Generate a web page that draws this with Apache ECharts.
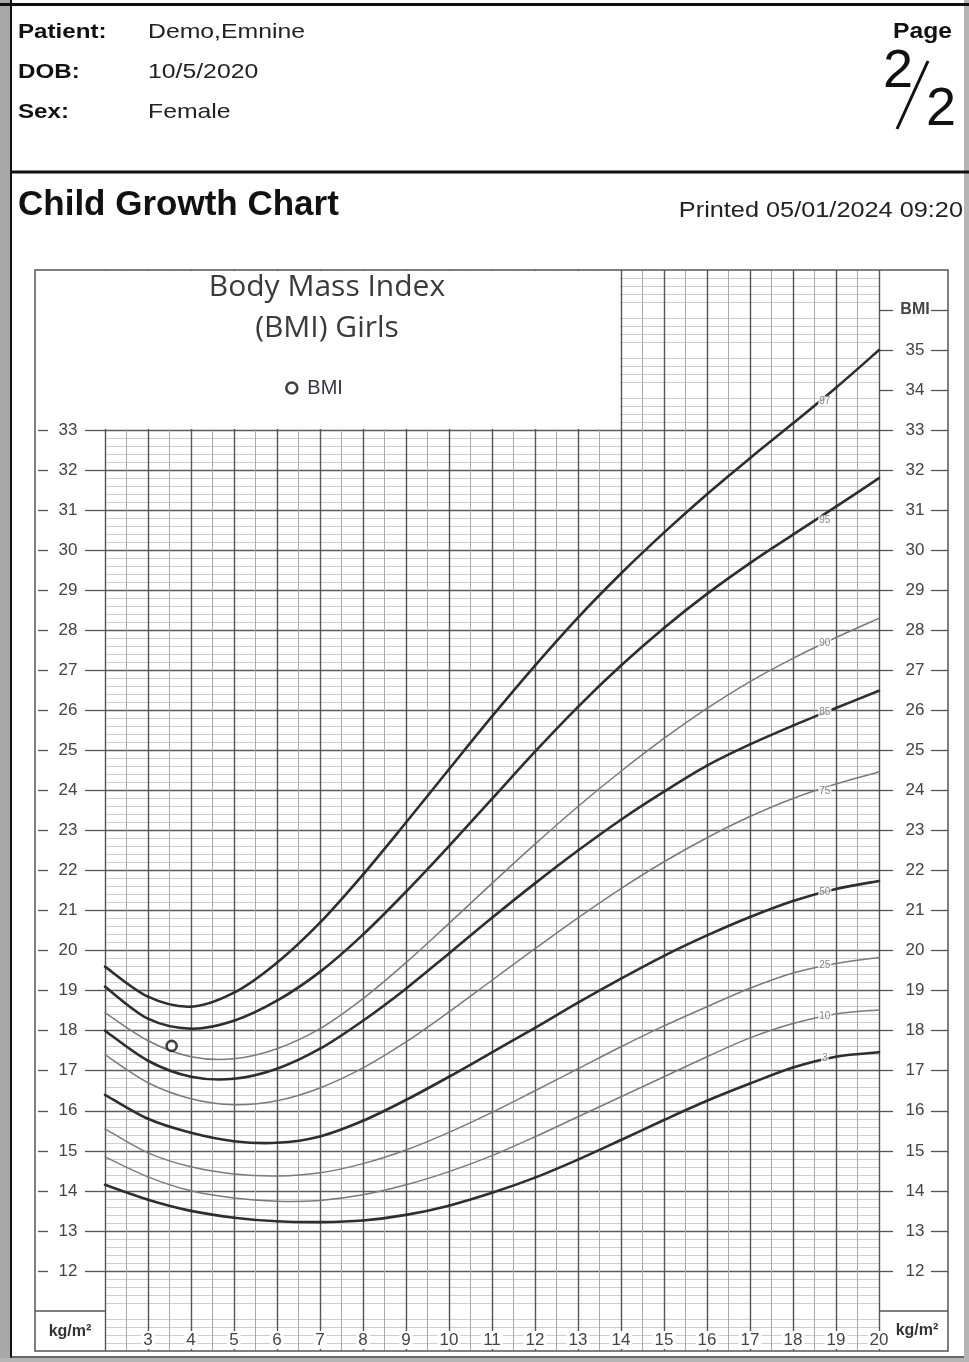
<!DOCTYPE html>
<html>
<head>
<meta charset="utf-8">
<script src="https://cdn.jsdelivr.net/npm/echarts@6/dist/echarts.min.js"></script>
<style>
html,body{margin:0;padding:0;background:#fff;}
#c{width:969px;height:1362px;}
</style>
</head>
<body>
<div id="c"></div>
<script>
// ---- data ----
const ages = [2,3,4,5,6,7,8,9,10,11,12,13,14,15,16,17,18,19,20];
const p97 = [19.6,18.85,18.6,18.95,19.7,20.7,21.9,23.2,24.53,25.85,27.12,28.32,29.42,30.44,31.4,32.3,33.17,34.06,35.0];
const p95 = [19.1,18.3,18.05,18.25,18.75,19.47,20.4,21.47,22.61,23.79,24.97,26.09,27.12,28.06,28.91,29.68,30.39,31.09,31.8];
const p90 = [18.45,17.75,17.35,17.3,17.55,18.05,18.8,19.7,20.68,21.68,22.66,23.6,24.48,25.3,26.05,26.72,27.3,27.82,28.3];
const p85 = [18.0,17.25,16.85,16.8,17.05,17.55,18.25,19.05,19.93,20.82,21.68,22.5,23.27,23.97,24.62,25.15,25.62,26.06,26.49];
const p75 = [17.4,16.7,16.3,16.15,16.25,16.57,17.07,17.72,18.47,19.26,20.05,20.82,21.55,22.22,22.82,23.35,23.8,24.16,24.46];
const p50 = [16.4,15.8,15.45,15.24,15.2,15.36,15.75,16.27,16.85,17.46,18.07,18.7,19.3,19.87,20.38,20.84,21.24,21.54,21.74];
const p25 = [15.55,14.95,14.6,14.42,14.37,14.45,14.68,15.02,15.46,15.96,16.5,17.05,17.6,18.12,18.6,19.06,19.44,19.68,19.83];
const p10 = [14.85,14.35,14.0,13.82,13.74,13.76,13.9,14.15,14.48,14.88,15.35,15.85,16.35,16.85,17.35,17.82,18.18,18.42,18.52];
const p3  = [14.15,13.78,13.5,13.33,13.24,13.22,13.26,13.4,13.63,13.95,14.33,14.78,15.27,15.77,16.25,16.68,17.08,17.35,17.46];

const pctNames = ['97','95','90','85','75','50','25','10','3'];
const pctThick = [true,true,false,true,false,true,false,false,true];
const pctLabelAge = 18.74;
const pctLabelVals = [33.73,30.75,27.68,25.96,23.99,21.45,19.64,18.37,17.3];

const bmiAge = [3.55];
const bmiVal = [17.62];

const xTickLabels = [3,4,5,6,7,8,9,10,11,12,13,14,15,16,17,18,19,20];
const leftTicks = [12,13,14,15,16,17,18,19,20,21,22,23,24,25,26,27,28,29,30,31,32,33];
const rightTicks = [12,13,14,15,16,17,18,19,20,21,22,23,24,25,26,27,28,29,30,31,32,33,34,35,36];

// ---- chart ----
const chart = echarts.init(document.getElementById('c'), null, {renderer:'canvas', width:969, height:1362});
const pctSeries = [p97,p95,p90,p85,p75,p50,p25,p10,p3];

const FONT = 'Liberation Sans, Arial, sans-serif';
const G = {left:105, right:90, top:270, bottom:11};

// smooth curve through the data points (Catmull-Rom segments), positions via api.coord
function curveRenderer(stroke, width) {
  return function (params, api) {
    const i = params.dataIndexInside;
    const n = params.dataInsideLength;
    if (i >= n - 1) return null;
    const P = k => api.coord([api.value(0, k), api.value(1, k)]);
    const p0 = P(Math.max(i - 1, 0));
    const p1 = P(i);
    const p2 = P(i + 1);
    const p3 = P(Math.min(i + 2, n - 1));
    return {
      type: 'bezierCurve',
      shape: {
        x1: p1[0], y1: p1[1],
        cpx1: p1[0] + (p2[0] - p0[0]) / 6, cpy1: p1[1] + (p2[1] - p0[1]) / 6,
        cpx2: p2[0] - (p3[0] - p1[0]) / 6, cpy2: p2[1] - (p3[1] - p1[1]) / 6,
        x2: p2[0], y2: p2[1]
      },
      style: {stroke: stroke, lineWidth: width, fill: 'none', lineCap: 'round'}
    };
  };
}

const series = pctSeries.map((arr, i) => ({
  name: 'P' + pctNames[i],
  type: 'custom',
  silent: true,
  z: 2,
  renderItem: pctThick[i] ? curveRenderer('#2e2e2e', 2.6) : curveRenderer('#7a7a7a', 1.5),
  encode: {x: 0, y: 1},
  data: ages.map((a, j) => [a, arr[j]])
}));

series.push({
  name: 'pctLabels',
  type: 'scatter',
  symbolSize: 0,
  silent: true,
  z: 4,
  data: pctLabelVals.map((v, i) => ({value:[pctLabelAge, v], name: pctNames[i]})),
  label: {
    show: true, position: 'inside', formatter: p => p.name,
    fontSize: 10, color: '#666', fontFamily: FONT,
    backgroundColor: '#fff', padding: [0, 1]
  }
});

series.push({
  name: 'BMI',
  type: 'scatter',
  symbol: 'circle',
  symbolSize: 10,
  z: 5,
  itemStyle: {color:'#fff', borderColor:'#111', borderWidth:2.6},
  data: bmiAge.map((a, i) => [a, bmiVal[i]])
});

const yBase = {
  type:'value', min:10, max:37, interval:1,
  axisLine:{show:false}, splitLine:{show:false},
  axisLabel:{show:false}, axisTick:{show:false}
};
const tickStyle = {color:'#555', width:1.3};

const option = {
  animation: false,
  backgroundColor: '#fff',
  grid: G,
  legend: {
    data: [{name:'BMI', icon:'circle', itemStyle:{color:'#fff', borderColor:'#111', borderWidth:2.6}}],
    left: 280, top: 373,
    itemWidth: 11, itemHeight: 11, itemGap: 10,
    selectedMode: false,
    textStyle: {fontSize: 20, color: '#3a3346', fontFamily: FONT, padding:[0,0,0,5]},
    z: 20
  },
  xAxis: [
    {
      type:'value', min:2, max:20, interval:1, gridIndex:0, position:'bottom',
      axisLine:{show:false}, axisTick:{show:false}, axisLabel:{show:false},
      splitLine:{show:true, lineStyle:{color:'#555', width:1.4}},
      minorTick:{show:false, splitNumber:2},
      minorSplitLine:{show:true, lineStyle:{color:'#a9a9a9', width:1}}
    },
    {
      type:'value', min:2, max:20, interval:1, gridIndex:0, position:'bottom', z: 6,
      axisLine:{show:false}, axisTick:{show:false}, splitLine:{show:false},
      axisLabel:{
        show:true, inside:true, customValues: xTickLabels, margin:2,
        fontSize:17, color:'#444', fontFamily: FONT,
        backgroundColor:'#fff', padding:[1,2,0,2]
      }
    }
  ],
  yAxis: [
    Object.assign({}, yBase, {
      position:'left',
      splitLine:{show:true, lineStyle:{color:'#5c5c5c', width:1.4}},
      minorTick:{show:false, splitNumber:5},
      minorSplitLine:{show:true, lineStyle:{color:'#cdcdcd', width:1}},
      axisTick:{show:true, length:20, customValues:leftTicks, lineStyle:tickStyle},
      axisLabel:{show:true, customValues:leftTicks, margin:37, align:'center', fontSize:17, color:'#444', fontFamily:FONT}
    }),
    Object.assign({}, yBase, {
      position:'left', offset:57,
      axisTick:{show:true, length:10, customValues:leftTicks, lineStyle:tickStyle}
    }),
    Object.assign({}, yBase, {
      position:'right',
      axisTick:{show:true, length:14, customValues:rightTicks, lineStyle:tickStyle},
      axisLabel:{
        show:true, customValues:rightTicks, margin:36, align:'center',
        fontSize:17, color:'#444', fontFamily:FONT,
        formatter: v => v === 36 ? '{b|BMI}' : String(v),
        rich:{b:{fontWeight:'bold', fontSize:16, color:'#444', fontFamily:FONT}}
      }
    }),
    Object.assign({}, yBase, {
      position:'right', offset:52,
      axisTick:{show:true, length:17, customValues:rightTicks, lineStyle:tickStyle}
    })
  ],
  series: series,
  graphic: [
    // page frame
    {type:'rect', shape:{x:0, y:0, width:10, height:1362}, style:{fill:'#a8a8a8'}, z:30},
    {type:'rect', shape:{x:964, y:0, width:5, height:1362}, style:{fill:'#b5b5b5'}, z:30},
    {type:'rect', shape:{x:0, y:1358, width:969, height:4}, style:{fill:'#b5b5b5'}, z:30},
    {type:'line', shape:{x1:11, y1:0, x2:11, y2:1358}, style:{stroke:'#111', lineWidth:2}, z:31},
    {type:'line', shape:{x1:0, y1:4.5, x2:969, y2:4.5}, style:{stroke:'#111', lineWidth:3}, z:31},
    {type:'line', shape:{x1:10, y1:1357, x2:964, y2:1357}, style:{stroke:'#333', lineWidth:1.5}, z:31},
    // header
    {type:'text', x:18, y:32, scaleX:1.15, z:30, style:{text:'Patient:', font:'bold 21px ' + FONT, fill:'#111', verticalAlign:'middle'}},
    {type:'text', x:18, y:72, scaleX:1.15, z:30, style:{text:'DOB:', font:'bold 21px ' + FONT, fill:'#111', verticalAlign:'middle'}},
    {type:'text', x:18, y:112, scaleX:1.15, z:30, style:{text:'Sex:', font:'bold 21px ' + FONT, fill:'#111', verticalAlign:'middle'}},
    {type:'text', x:148, y:32, scaleX:1.18, z:30, style:{text:'Demo,Emnine', font:'21px ' + FONT, fill:'#222', verticalAlign:'middle'}},
    {type:'text', x:148, y:72, scaleX:1.18, z:30, style:{text:'10/5/2020', font:'21px ' + FONT, fill:'#222', verticalAlign:'middle'}},
    {type:'text', x:148, y:112, scaleX:1.18, z:30, style:{text:'Female', font:'21px ' + FONT, fill:'#222', verticalAlign:'middle'}},
    {type:'text', x:952, y:32, scaleX:1.12, z:30, style:{text:'Page', font:'bold 22px ' + FONT, fill:'#111', align:'right', verticalAlign:'middle'}},
    {type:'text', x:898, y:72, z:30, style:{text:'2', font:'54px ' + FONT, fill:'#111', align:'center', verticalAlign:'middle'}},
    {type:'text', x:941, y:110, z:30, style:{text:'2', font:'54px ' + FONT, fill:'#111', align:'center', verticalAlign:'middle'}},
    {type:'line', shape:{x1:897, y1:129, x2:928, y2:61}, style:{stroke:'#111', lineWidth:3}, z:30},
    {type:'line', shape:{x1:12, y1:172, x2:969, y2:172}, style:{stroke:'#111', lineWidth:3}, z:30},
    {type:'text', x:18, y:205, z:30, style:{text:'Child Growth Chart', font:'bold 35px ' + FONT, fill:'#111', verticalAlign:'middle'}},
    {type:'text', x:963, y:211, scaleX:1.15, z:30, style:{text:'Printed 05/01/2024 09:20', font:'22px ' + FONT, fill:'#222', align:'right', verticalAlign:'middle'}},
    // white title panel over the upper-left grid area
    {type:'rect', shape:{x:103, y:271, width:517, height:158}, style:{fill:'#fff'}, z:1},
    {type:'text', x:327, y:287, z:20, style:{text:'Body Mass Index', font:'30px Open Sans, Noto Sans, sans-serif', fill:'#3a3a3a', align:'center', verticalAlign:'middle'}},
    {type:'text', x:327, y:328, z:20, style:{text:'(BMI) Girls', font:'30px Open Sans, Noto Sans, sans-serif', fill:'#3a3a3a', align:'center', verticalAlign:'middle'}},
    // chart box frame
    {type:'rect', shape:{x:35, y:270, width:913, height:1081}, style:{fill:'none', stroke:'#555', lineWidth:1.5}, z:20},
    {type:'line', shape:{x1:35, y1:1311, x2:105, y2:1311}, style:{stroke:'#555', lineWidth:1.5}, z:20},
    {type:'line', shape:{x1:879, y1:1311, x2:948, y2:1311}, style:{stroke:'#555', lineWidth:1.5}, z:20},
    {type:'text', x:70, y:1332, z:20, style:{text:'kg/m²', font:'bold 16px ' + FONT, fill:'#333', align:'center', verticalAlign:'middle'}},
    {type:'text', x:917, y:1331, z:20, style:{text:'kg/m²', font:'bold 16px ' + FONT, fill:'#333', align:'center', verticalAlign:'middle'}}
  ]
};
chart.setOption(option);
</script>
</body>
</html>
